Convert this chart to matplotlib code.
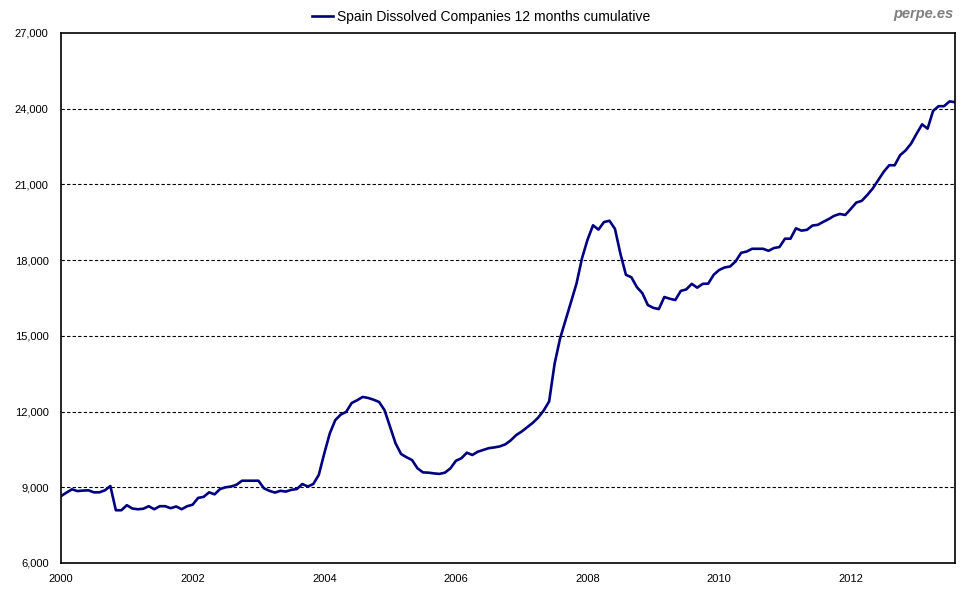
import matplotlib
matplotlib.use("Agg")
import matplotlib.pyplot as plt
from matplotlib.ticker import FuncFormatter

start_year = 2000
values = [
    8650, 8790, 8920, 8850, 8870, 8880, 8800, 8800, 8880, 9050,
    8090, 8090, 8290, 8160, 8130, 8150, 8250, 8130, 8250, 8250,
    8170, 8240, 8130, 8250, 8310, 8580, 8620, 8800, 8720, 8930,
    9000, 9030, 9100, 9260, 9260, 9260, 9260, 8960, 8860, 8790,
    8860, 8830, 8900, 8930, 9130, 9030, 9130, 9490, 10340, 11130,
    11660, 11880, 11990, 12340, 12450, 12580, 12540, 12470, 12380, 12050,
    11390, 10740, 10320, 10190, 10080, 9750, 9590, 9580, 9550, 9530,
    9580, 9750, 10050, 10150, 10370, 10280, 10410, 10480, 10550, 10580,
    10620, 10700, 10860, 11070, 11210, 11380, 11550, 11760, 12040, 12400,
    13900, 14900, 15620, 16350, 17080, 18080, 18810, 19380, 19210, 19510,
    19560, 19240, 18250, 17420, 17320, 16930, 16690, 16220, 16110, 16060,
    16540, 16470, 16420, 16780, 16840, 17060, 16910, 17060, 17070, 17420,
    17610, 17710, 17750, 17950, 18290, 18340, 18450, 18450, 18450, 18370,
    18480, 18520, 18850, 18850, 19260, 19170, 19200, 19370, 19400, 19520,
    19630, 19760, 19830, 19790, 20030, 20280, 20350, 20580, 20840, 21170,
    21500, 21760, 21760, 22160, 22350, 22620, 23010, 23380, 23210, 23910,
    24100, 24100, 24290, 24260,
]
dates = [start_year + i / 12 for i in range(len(values))]
x_ticks = [2000, 2002, 2004, 2006, 2008, 2010, 2012]
y_ticks = [6000, 9000, 12000, 15000, 18000, 21000, 24000, 27000]
series_label = "Spain Dissolved Companies 12 months cumulative"
watermark = "perpe.es"

plt.rcParams['font.family'] = ['Liberation Sans', 'DejaVu Sans']

W, H = 980, 600
fig = plt.figure(figsize=(W / 100, H / 100), dpi=100)
ax = fig.add_axes([61 / W, (H - 563) / H, (955 - 61) / W, (563 - 33) / H])

line, = ax.plot(dates, values, color='#000080', linewidth=1.9, label=series_label)

ax.set_xlim(dates[0], dates[-1])
ax.set_ylim(6000, 27000)
ax.set_xticks(x_ticks)
ax.set_xticklabels([str(t) for t in x_ticks])
ax.set_yticks(y_ticks)
ax.yaxis.set_major_formatter(FuncFormatter(lambda v, p: f"{int(v):,}"))
ax.tick_params(axis='both', length=0, labelsize=8, colors='black')
ax.tick_params(axis='x', pad=8)
ax.tick_params(axis='y', pad=9)

for y in y_ticks[1:-1]:
    ax.axhline(y, color='black', linestyle=(0, (3, 2)), linewidth=0.8, zorder=0)

for s in ax.spines.values():
    s.set_color('black')
    s.set_linewidth(1.2)

fig.legend(handles=[line], labels=[series_label], loc='center',
           bbox_to_anchor=(481 / W, 1 - 17 / H), frameon=False,
           fontsize=10, handlelength=1.5, handletextpad=0.3)

fig.text(953 / W, 1 - 14 / H, watermark, ha='right', va='center',
         fontsize=10.5, fontweight='bold', fontstyle='italic', color='#7f7f7f')

fig.savefig('out.png', dpi=100)
